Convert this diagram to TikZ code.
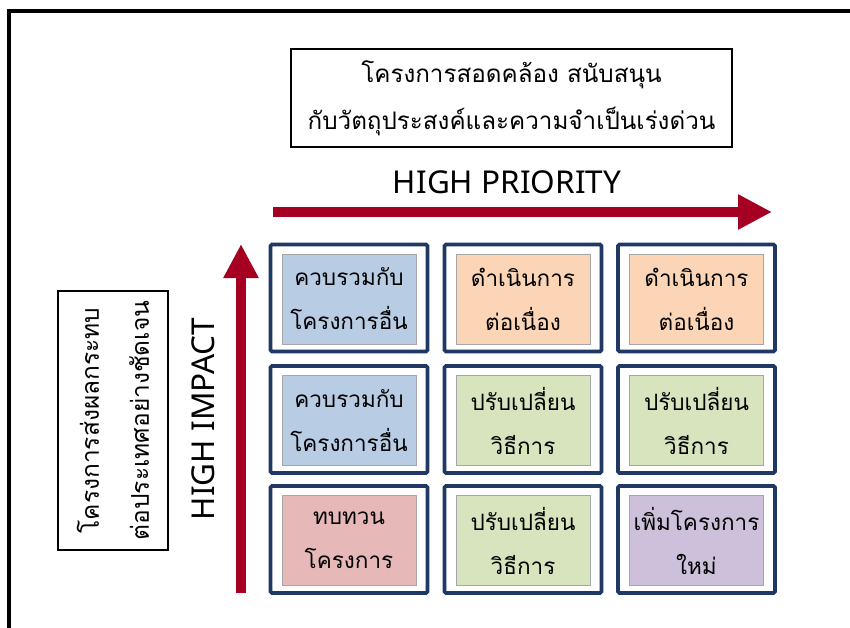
\documentclass[tikz,border=0pt]{standalone}
\usepackage{fontspec}
\newfontfamily\thaifont[Script=Thai]{Loma}
\newfontfamily\latfont{Noto Sans}
\usetikzlibrary{arrows.meta}
\definecolor{navy}{HTML}{1F3864}
\definecolor{axisred}{HTML}{A50021}
\definecolor{cblue}{HTML}{B8CCE4}
\definecolor{corange}{HTML}{FBD5B5}
\definecolor{cgreen}{HTML}{D7E4BD}
\definecolor{cred}{HTML}{E6B9B8}
\definecolor{cpurple}{HTML}{CCC0DA}
\definecolor{innerline}{HTML}{A6A6A6}
\tikzset{
  outercell/.style={draw=navy, line width=3.6pt, rounded corners=1.5pt, fill=white,
    minimum width=157pt, minimum height=107pt, inner sep=0pt},
  innercell/.style={draw=innerline, line width=0.8pt, minimum width=134pt,
    minimum height=90pt, inner sep=0pt, align=center,
    font=\thaifont\fontsize{22.5}{44}\selectfont},
  labelbox/.style={draw=black, line width=1.8pt, inner sep=0pt, align=center},
  axisarrow/.style={draw=axisred, line width=10pt,
    -{Triangle[length=34pt,width=33pt]}},
  axislabel/.style={font=\latfont\fontsize{31.5}{34}\selectfont, inner sep=0pt}
}
\begin{document}
\begin{tikzpicture}[x=1pt,y=-1pt]
\useasboundingbox (0,0) rectangle (850,628);
% outer frame (cut by the page edges)
\draw[line width=4pt, line join=miter] (9,628) -- (9,11) -- (850,11);

% top box
\node[labelbox, minimum width=441pt, minimum height=98pt,
  font=\thaifont\fontsize{24.2}{47}\selectfont] (top) at (511.5,98)
  {โครงการสอดคล้อง สนับสนุน\\กับวัตถุประสงค์และความจำเป็นเร่งด่วน};

% left box
\node[labelbox, minimum width=259pt, minimum height=110pt, rotate=90,
  font=\thaifont\fontsize{24.5}{50}\selectfont] (left) at (113,420.5)
  {โครงการส่งผลกระทบ\\ต่อประเทศอย่างชัดเจน};

% axes
\coordinate (hstart) at (273,212);
\coordinate (hend) at (772,212);
\coordinate (vstart) at (241,593);
\coordinate (vend) at (241,244);
\draw[axisarrow] (hstart) -- (hend);
\draw[axisarrow] (vstart) -- (vend);
\node[axislabel] (hp) at (507,182) {HIGH PRIORITY};
\node[axislabel, rotate=90] (hi) at (203,419) {HIGH IMPACT};

% grid
\def\cellA{349}\def\cellB{523}\def\cellC{696.5}
\def\rowA{298}\def\rowB{419.5}\def\rowC{539.5}

\node[outercell] (o11) at (\cellA,\rowA) {};
\node[innercell, fill=cblue] (c11) at (\cellA,\rowA+1) {ควบรวมกับ\\โครงการอื่น};
\node[outercell] (o12) at (\cellB,\rowA) {};
\node[innercell, fill=corange] (c12) at (\cellB,\rowA+1) {ดำเนินการ\\ต่อเนื่อง};
\node[outercell] (o13) at (\cellC,\rowA) {};
\node[innercell, fill=corange] (c13) at (\cellC,\rowA+1) {ดำเนินการ\\ต่อเนื่อง};

\node[outercell] (o21) at (\cellA,\rowB) {};
\node[innercell, fill=cblue] (c21) at (\cellA,\rowB+1) {ควบรวมกับ\\โครงการอื่น};
\node[outercell] (o22) at (\cellB,\rowB) {};
\node[innercell, fill=cgreen] (c22) at (\cellB,\rowB+1) {ปรับเปลี่ยน\\วิธีการ};
\node[outercell] (o23) at (\cellC,\rowB) {};
\node[innercell, fill=cgreen] (c23) at (\cellC,\rowB+1) {ปรับเปลี่ยน\\วิธีการ};

\node[outercell] (o31) at (\cellA,\rowC) {};
\node[innercell, fill=cred] (c31) at (\cellA,\rowC+1) {ทบทวน\\โครงการ};
\node[outercell] (o32) at (\cellB,\rowC) {};
\node[innercell, fill=cgreen] (c32) at (\cellB,\rowC+1) {ปรับเปลี่ยน\\วิธีการ};
\node[outercell] (o33) at (\cellC,\rowC) {};
\node[innercell, fill=cpurple] (c33) at (\cellC,\rowC+1) {เพิ่มโครงการ\\ใหม่};
\end{tikzpicture}
\end{document}
